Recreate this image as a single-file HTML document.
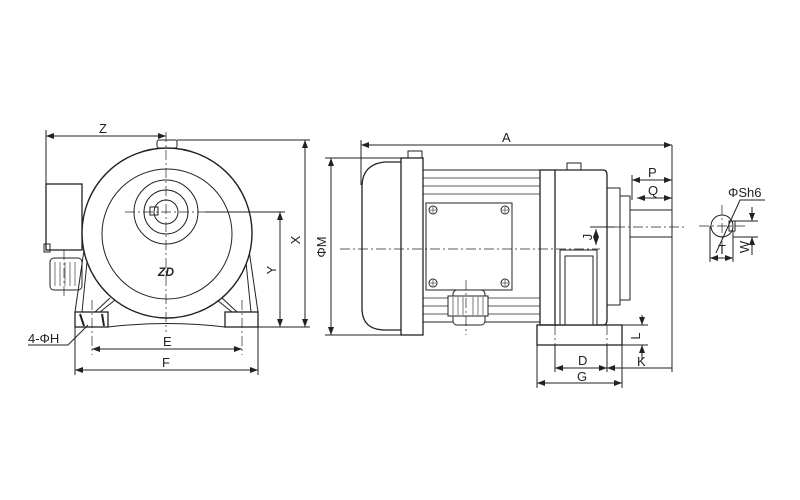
<!DOCTYPE html>
<html><head><meta charset="utf-8"><style>
html,body{margin:0;padding:0;background:#fff;}
svg{display:block;}
text{font-family:"Liberation Sans",sans-serif;font-size:13px;fill:#222;}
</style></head><body>
<svg width="800" height="500" viewBox="0 0 800 500" xmlns="http://www.w3.org/2000/svg">
<defs>
<marker id="a" markerWidth="8" markerHeight="6" refX="8" refY="3" orient="auto-start-reverse" markerUnits="userSpaceOnUse"><path d="M0,0 L8,3 L0,6z" fill="#222"/></marker>
</defs>
<g stroke="#222" fill="none" stroke-width="1">
<!-- LEFT VIEW -->
<rect x="46" y="184" width="36" height="66" stroke-width="1.3"/>
<rect x="50" y="258" width="32" height="32" rx="4"/>
<g stroke-width="0.6"><line x1="55" y1="262" x2="55" y2="286"/><line x1="60" y1="262" x2="60" y2="286"/><line x1="65" y1="262" x2="65" y2="286"/><line x1="70" y1="262" x2="70" y2="286"/><line x1="75" y1="262" x2="75" y2="286"/></g>
<rect x="44" y="244" width="6" height="8"/>
<path d="M84,250 L75,312 M88,252 L82,312 M249,250 L258,312 M245,252 L251,312" stroke-width="1"/>
<path d="M95,312 L110,298 M100,312 L115,300 M237,312 L222,298 M232,312 L217,300"/>
<circle cx="167" cy="233" r="85" fill="#fff" stroke-width="1.4"/>
<circle cx="167" cy="234" r="65"/>
<circle cx="166" cy="212" r="32"/>
<circle cx="166" cy="212" r="22"/>
<circle cx="166" cy="212" r="12"/>
<rect x="150" y="207" width="8" height="8"/>
<rect x="157" y="140" width="20" height="8" rx="2"/>
<rect x="75" y="312" width="33" height="15" stroke-width="1.3"/>
<rect x="225" y="312" width="33" height="15" stroke-width="1.3"/>
<path d="M108,327 Q167,320 225,327"/>
<path d="M80,314 L84,326 M102,314 L104,326" stroke-width="2"/>
<g stroke-dasharray="10,3,2,3" stroke-width="0.7">
<line x1="166" y1="132" x2="166" y2="332"/><line x1="125" y1="212" x2="205" y2="212"/>
<line x1="92" y1="300" x2="92" y2="355"/><line x1="242" y1="300" x2="242" y2="355"/>
<line x1="64" y1="250" x2="64" y2="296"/>
</g>
<!-- dims left -->
<line x1="46" y1="184" x2="46" y2="130"/>
<line x1="46" y1="136" x2="166" y2="136" marker-start="url(#a)" marker-end="url(#a)"/>
<line x1="177" y1="140" x2="310" y2="140"/>
<line x1="205" y1="212" x2="285" y2="212"/>
<line x1="258" y1="327" x2="310" y2="327"/>
<line x1="305" y1="140" x2="305" y2="327" marker-start="url(#a)" marker-end="url(#a)"/>
<line x1="280" y1="212" x2="280" y2="327" marker-start="url(#a)" marker-end="url(#a)"/>
<line x1="75" y1="327" x2="75" y2="375"/><line x1="258" y1="327" x2="258" y2="375"/>
<line x1="92" y1="349" x2="242" y2="349" marker-start="url(#a)" marker-end="url(#a)"/>
<line x1="75" y1="370" x2="258" y2="370" marker-start="url(#a)" marker-end="url(#a)"/>
<path d="M28,345 L68,345 L88,325"/>
<!-- SIDE VIEW -->
<line x1="361" y1="145" x2="672" y2="145" marker-start="url(#a)" marker-end="url(#a)"/>
<line x1="361" y1="140" x2="361" y2="185"/>
<line x1="325" y1="158" x2="401" y2="158"/><line x1="325" y1="335" x2="401" y2="335"/>
<line x1="331" y1="158" x2="331" y2="335" marker-start="url(#a)" marker-end="url(#a)"/>
<path d="M401,162 L385,162 Q363,164 362,185 L362,310 Q363,330 385,330 L401,330" stroke-width="1.3"/>
<rect x="401" y="158" width="22" height="177" stroke-width="1.3"/>
<rect x="408" y="151" width="14" height="7"/>
<rect x="423" y="170" width="117" height="152"/>
<g stroke-width="0.8"><line x1="423" y1="178" x2="540" y2="178"/><line x1="423" y1="186" x2="540" y2="186"/><line x1="423" y1="194" x2="540" y2="194"/><line x1="423" y1="298" x2="540" y2="298"/><line x1="423" y1="306" x2="540" y2="306"/><line x1="423" y1="314" x2="540" y2="314"/></g>
<rect x="426" y="203" width="86" height="87" fill="#fff"/>
<circle cx="433" cy="210" r="4"/><circle cx="505" cy="210" r="4"/><circle cx="433" cy="283" r="4"/><circle cx="505" cy="283" r="4"/>
<path d="M430,210h6M433,207v6M502,210h6M505,207v6M430,283h6M433,280v6M502,283h6M505,280v6" stroke-width="0.6"/>
<rect x="453" y="290" width="32" height="35" rx="4" fill="#fff"/>
<rect x="448" y="296" width="40" height="20" fill="#fff"/>
<g stroke-width="0.6"><line x1="453" y1="297" x2="453" y2="315"/><line x1="458" y1="297" x2="458" y2="315"/><line x1="463" y1="297" x2="463" y2="315"/><line x1="473" y1="297" x2="473" y2="315"/><line x1="478" y1="297" x2="478" y2="315"/><line x1="483" y1="297" x2="483" y2="315"/></g>
<rect x="540" y="170" width="15" height="155" stroke-width="1.3"/>
<path d="M555,170 L603,170 Q607,170 607,175 L607,320 Q607,325 603,325 L555,325" stroke-width="1.3"/>
<rect x="567" y="163" width="14" height="7"/>
<rect x="607" y="188" width="13" height="117"/>
<rect x="620" y="196" width="10" height="104"/>
<rect x="630" y="210" width="42" height="27"/>
<rect x="560" y="250" width="37" height="75" fill="#fff"/>
<rect x="565" y="256" width="28" height="69"/>
<rect x="537" y="325" width="85" height="20" stroke-width="1.3"/>
<g stroke-dasharray="10,3,2,3" stroke-width="0.7">
<line x1="340" y1="249" x2="600" y2="249"/><line x1="615" y1="227" x2="685" y2="227"/>
<line x1="466" y1="280" x2="466" y2="335"/><line x1="555" y1="325" x2="555" y2="345"/><line x1="607" y1="325" x2="607" y2="345"/>
<line x1="699" y1="226" x2="745" y2="226"/><line x1="722" y1="205" x2="722" y2="250"/>
</g>
<line x1="672" y1="145" x2="672" y2="372"/>
<line x1="632" y1="175" x2="632" y2="200"/>
<line x1="632" y1="180" x2="672" y2="180" marker-start="url(#a)" marker-end="url(#a)"/>
<line x1="637" y1="198" x2="672" y2="198" marker-start="url(#a)" marker-end="url(#a)"/>
<line x1="590" y1="227" x2="615" y2="227"/>
<line x1="596" y1="229" x2="596" y2="245" marker-start="url(#a)" marker-end="url(#a)"/>
<line x1="622" y1="325" x2="648" y2="325"/><line x1="622" y1="345" x2="648" y2="345"/>
<line x1="642" y1="315" x2="642" y2="325" marker-end="url(#a)"/>
<line x1="642" y1="360" x2="642" y2="345" marker-end="url(#a)"/>
<line x1="537" y1="345" x2="537" y2="388"/><line x1="622" y1="345" x2="622" y2="388"/>
<line x1="555" y1="345" x2="555" y2="372"/><line x1="607" y1="345" x2="607" y2="372"/>
<line x1="555" y1="368" x2="607" y2="368" marker-start="url(#a)" marker-end="url(#a)"/>
<line x1="607" y1="368" x2="672" y2="368" marker-start="url(#a)"/>
<line x1="537" y1="383" x2="622" y2="383" marker-start="url(#a)" marker-end="url(#a)"/>
<!-- shaft section -->
<circle cx="722" cy="226" r="11"/>
<rect x="729" y="221" width="6" height="10"/>
<path d="M716,253 L740,200 L765,200"/>
<line x1="710" y1="226" x2="710" y2="262"/><line x1="733" y1="231" x2="733" y2="262"/>
<line x1="710" y1="258" x2="733" y2="258" marker-start="url(#a)" marker-end="url(#a)"/>
<line x1="735" y1="221" x2="758" y2="221"/><line x1="733" y1="237" x2="758" y2="237"/>
<line x1="752" y1="207" x2="752" y2="221" marker-end="url(#a)"/>
<line x1="752" y1="255" x2="752" y2="237" marker-end="url(#a)"/>
</g>
<text x="99" y="133">Z</text>
<text x="300" y="240" transform="rotate(-90 300 240)" text-anchor="middle">X</text>
<text x="276" y="270" transform="rotate(-90 276 270)" text-anchor="middle">Y</text>
<text x="163" y="346">E</text>
<text x="162" y="367">F</text>
<text x="28" y="343">4-ΦH</text>
<text x="158" y="276" style="font-weight:bold;font-style:italic;font-size:12px">ZD</text>
<text x="502" y="142">A</text>
<text x="326" y="247" transform="rotate(-90 326 247)" text-anchor="middle">ΦM</text>
<text x="648" y="177">P</text>
<text x="648" y="195">Q</text>
<text x="592" y="237" transform="rotate(-90 592 237)" text-anchor="middle">J</text>
<text x="578" y="365">D</text>
<text x="577" y="381">G</text>
<text x="637" y="366">K</text>
<text x="640" y="336" transform="rotate(-90 640 336)" text-anchor="middle">L</text>
<text x="728" y="197">ΦSh6</text>
<text x="718" y="254">T</text>
<text x="749" y="247" transform="rotate(-90 749 247)" text-anchor="middle">W</text>
</svg>
</body></html>
